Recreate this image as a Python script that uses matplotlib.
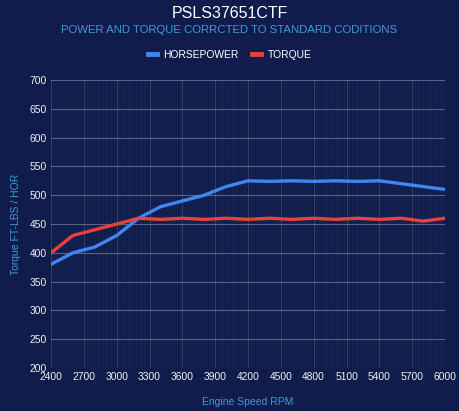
import numpy as np
import matplotlib.pyplot as plt
from matplotlib.lines import Line2D

plt.rcParams['font.family'] = ['Liberation Sans', 'DejaVu Sans']

rpm = [2400, 2600, 2800, 3000, 3200, 3400, 3600, 3800, 4000, 4200,
       4400, 4600, 4800, 5000, 5200, 5400, 5600, 5800, 6000]
horsepower = [380, 400, 410, 430, 460, 480, 490, 500, 515, 525,
              524, 525, 524, 525, 524, 525, 520, 515, 510]
torque = [400, 430, 440, 450, 460, 458, 460, 458, 460, 458,
          460, 458, 460, 458, 460, 458, 460, 455, 460]
x_ticks = list(range(2400, 6001, 300))
y_ticks = list(range(200, 701, 50))

bg = '#101d4c'
blue = '#3f86f0'
red = '#e8403a'
label_col = '#3f9ad8'

fig = plt.figure(figsize=(4.59, 4.11), dpi=100, facecolor=bg)
ax = fig.add_axes([51 / 459, 43 / 411, 394 / 459, 288 / 411])
ax.set_facecolor(bg)

# faint dense vertical grid like the original
for xv in np.arange(2400, 6001, 25):
    ax.axvline(xv, color='white', alpha=0.04, lw=0.6, zorder=0)
for xv in x_ticks:
    ax.axvline(xv, color='white', alpha=0.12, lw=0.8, zorder=0)
for yv in y_ticks:
    ax.axhline(yv, color='white', alpha=0.3, lw=0.8, zorder=0)

ax.plot(rpm, horsepower, color=blue, lw=2.4, zorder=3)
ax.plot(rpm, torque, color=red, lw=2.4, zorder=3)

ax.set_xlim(2400, 6000)
ax.set_ylim(200, 700)
ax.set_xticks(x_ticks)
ax.set_yticks(y_ticks)
ax.tick_params(colors='#f0f0f0', labelsize=7.4, length=0, pad=3)
for s in ax.spines.values():
    s.set_visible(False)

ax.set_xlabel('Engine Speed RPM', color=label_col, fontsize=7.5, labelpad=11)
ax.set_ylabel('Torque FT-LBS / HOR', color=label_col, fontsize=7.5, labelpad=6)

fig.text(0.5, 1 - 14 / 411, 'PSLS37651CTF', color='white', fontsize=11.5,
         ha='center', va='center')
fig.text(0.5, 1 - 30 / 411, 'POWER AND TORQUE CORRCTED TO STANDARD CODITIONS',
         color=label_col, fontsize=8.2, ha='center', va='center')

handles = [Line2D([], [], color=blue, lw=3.5), Line2D([], [], color=red, lw=3.5)]
fig.legend(handles, ['HORSEPOWER', 'TORQUE'], loc='center',
           bbox_to_anchor=(0.5, 1 - 55 / 411), ncol=2, frameon=False,
           handlelength=0.9, handletextpad=0.6, columnspacing=1.3,
           labelcolor='white', fontsize=7.4)

fig.savefig('out.png', dpi=100, facecolor=bg)
